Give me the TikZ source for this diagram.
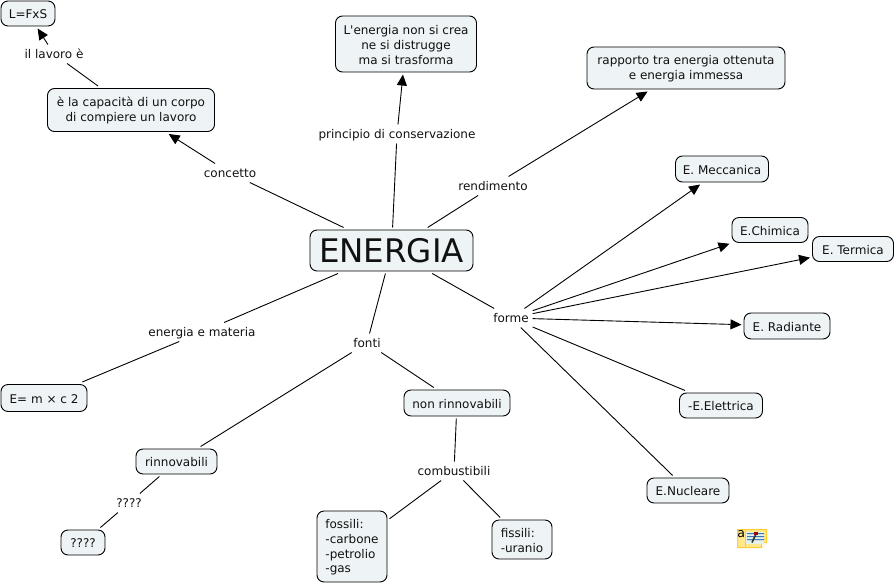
\documentclass[tikz,border=0pt]{standalone}
\usepackage{fontspec}
\setmainfont[Ligatures=TeXOff]{DejaVu Sans}
\usetikzlibrary{arrows.meta}
\definecolor{boxfill}{HTML}{EEF3F5}
\definecolor{ink}{HTML}{111111}
\definecolor{notefill}{HTML}{FFE88C}
\definecolor{noteedge}{HTML}{FFCC33}
\definecolor{notepage}{HTML}{E4F0E8}
\definecolor{noteline}{HTML}{3A78B8}
\newcommand{\topfix}{\rule{0pt}{11pt}}
\tikzset{
  x=1pt,y=-1pt,
  concept/.style={draw=black,fill=boxfill,rounded corners=7pt,line width=0.9pt,inner sep=0pt,outer sep=2.5pt,text=ink,font=\fontsize{12}{14.6}\selectfont,align=center},
  oneline/.style={text height=10pt,text depth=0pt},
  linklabel/.style={inner sep=1pt,outer sep=3pt,text=ink,font=\fontsize{12}{14.6}\selectfont,text height=10pt,text depth=1pt},
  plain/.style={draw=black,line width=0.9pt},
  arrowline/.style={plain,-{Triangle[length=11pt,width=10pt]}}
}
\begin{document}
\begin{tikzpicture}
\useasboundingbox (0,0) rectangle (895,584);
\node[concept,minimum width=163,minimum height=41,font=\fontsize{32.5}{36}\selectfont,text height=24pt,text depth=0pt] (energia) at (391.5,250.5) {ENERGIA};
\node[concept,oneline,minimum width=54,minimum height=25] (lfs) at (28,13.5) {L=FxS};
\node[concept,minimum width=167,minimum height=43] (capacita) at (131,110) {\topfix è la capacità di un corpo\\di compiere un lavoro};
\node[concept,minimum width=141,minimum height=56] (conserva) at (406,44) {\topfix L'energia non si crea\\ne si distrugge\\ma si trasforma};
\node[concept,minimum width=198,minimum height=42] (rapporto) at (686,68) {\topfix rapporto tra energia ottenuta\\e energia immessa};
\node[concept,oneline,minimum width=93,minimum height=26] (mecc) at (722,169) {E. Meccanica};
\node[concept,oneline,minimum width=76,minimum height=25] (chim) at (770,230) {E.Chimica};
\node[concept,oneline,minimum width=81,minimum height=25] (term) at (853,249) {E. Termica};
\node[concept,oneline,minimum width=86,minimum height=26] (rad) at (787,326) {E. Radiante};
\node[concept,oneline,minimum width=83,minimum height=25] (elet) at (721,405.5) {-E.Elettrica};
\node[concept,oneline,minimum width=82,minimum height=25] (nucl) at (688,490.5) {E.Nucleare};
\node[concept,oneline,minimum width=86,minimum height=27] (emc) at (44,398) {E= m × c 2};
\node[concept,oneline,minimum width=106,minimum height=26] (nonrin) at (457,403) {non rinnovabili};
\node[concept,oneline,minimum width=81,minimum height=25] (rin) at (176.5,461.5) {rinnovabili};
\node[concept,oneline,minimum width=44,minimum height=25] (qbox) at (83,542.5) {????};
\node[concept,minimum width=70,minimum height=71,align=left] (fossili) at (352,546.5) {\topfix fossili:\\-carbone\\-petrolio\\-gas};
\node[concept,minimum width=60,minimum height=39,align=left] (fissili) at (522,539.5) {\topfix fissili:\\-uranio};
\node[linklabel] (lconcetto) at (230,173) {concetto};
\node[linklabel] (llavoro) at (54,54) {il lavoro è};
\node[linklabel] (lprincipio) at (397,134) {principio di conservazione};
\node[linklabel] (lrend) at (493,186) {rendimento};
\node[linklabel] (lforme) at (511,318) {forme};
\node[linklabel] (lmateria) at (202,332) {energia e materia};
\node[linklabel] (lfonti) at (367,343) {fonti};
\node[linklabel] (lcomb) at (454,471) {combustibili};
\node[linklabel] (lq) at (129,503) {????};
\draw[plain] (energia) -- (lconcetto);
\draw[arrowline] (lconcetto) -- (capacita);
\draw[plain] (capacita) -- (llavoro);
\draw[arrowline] (llavoro) -- (lfs);
\draw[plain] (energia) -- (lprincipio);
\draw[arrowline] (lprincipio) -- (conserva);
\draw[plain] (energia) -- (lrend);
\draw[arrowline] (lrend) -- (rapporto);
\draw[plain] (energia) -- (lforme);
\draw[arrowline] (lforme) -- (mecc);
\draw[arrowline] (lforme) -- (chim);
\draw[arrowline] (lforme) -- (term);
\draw[arrowline] (lforme) -- (rad);
\draw[plain] (lforme) -- (elet);
\draw[plain] (lforme) -- (nucl);
\draw[plain] (energia) -- (lmateria);
\draw[plain] (lmateria) -- (emc);
\draw[plain] (energia) -- (lfonti);
\draw[plain] (lfonti) -- (nonrin);
\draw[plain] (lfonti) -- (rin);
\draw[plain] (rin) -- (lq);
\draw[plain] (lq) -- (qbox);
\draw[plain] (nonrin) -- (lcomb);
\draw[plain] (lcomb) -- (fossili);
\draw[plain] (lcomb) -- (fissili);
% note icon
\fill[notefill,draw=noteedge,line width=1pt] (737.5,529.5) -- (766.5,529.5) -- (766.5,542.5) -- (761.5,547.5) -- (737.5,547.5) -- cycle;
\draw[noteedge,line width=0.6pt] (745,530) -- (745,547);
\draw[noteedge,line width=0.8pt,fill=white] (761.5,547.5) -- (761.5,542.5) -- (766.5,542.5);
\fill[notepage] (746,532) rectangle (764,544);
\fill[noteline] (747,533) rectangle (764,534) (747,536) rectangle (764,537) (747,539) rectangle (764,540);
\draw[black!80,line width=1.6pt] (752,542.5) -- (755.5,535);
\fill[red!60!black] (754,531.5) rectangle (758,535);
\node[inner sep=0pt,font=\fontsize{12.5}{12.5}\selectfont] (iconletter) at (741.3,534) {a};
\end{tikzpicture}
\end{document}
